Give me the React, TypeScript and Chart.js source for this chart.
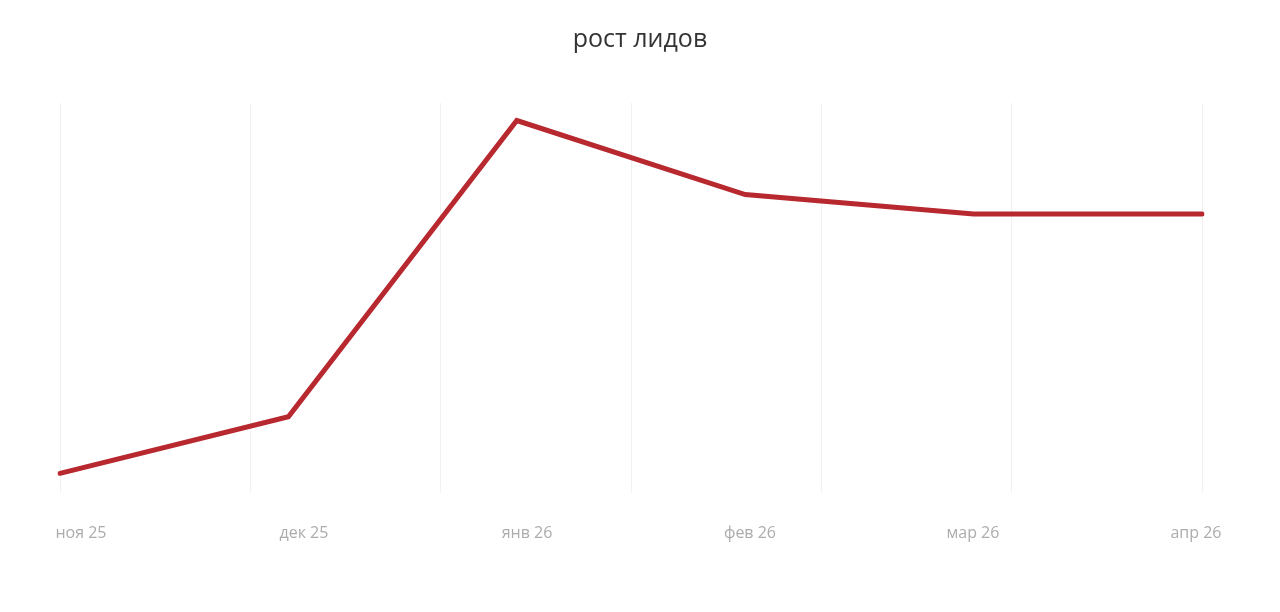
import { useEffect, useRef } from "react";
import { Chart, registerables, ChartConfiguration } from "chart.js";

Chart.register(...registerables);

const months: string[] = ["ноя 25", "дек 25", "янв 26", "фев 26", "мар 26", "апр 26"];
const leads: number[] = [5, 19.5, 95.5, 76.5, 71.5, 71.5];
const gridSteps: number[] = [0, 1, 2, 3, 4, 5, 6];

const FONT = "'Open Sans', 'Noto Sans', sans-serif";

function LeadsChart() {
  const chartRef = useRef<null | HTMLCanvasElement>(null);

  useEffect(() => {
    document.body.style.margin = "0";
    let chartInstance: null | Chart<"line"> = null;
    if (chartRef.current) {
      const ctx = chartRef.current.getContext("2d");
      if (ctx) {
        const config: ChartConfiguration<"line"> = {
          type: "line",
          data: {
            labels: months,
            datasets: [
              {
                label: "рост лидов",
                data: leads,
                borderColor: "#b8282f",
                borderWidth: 5,
                borderCapStyle: "round",
                pointRadius: 0,
                pointHoverRadius: 0,
                tension: 0,
                fill: false,
                xAxisID: "x",
                yAxisID: "y",
              },
            ],
          },
          options: {
            responsive: false,
            animation: false,
            layout: {
              padding: { left: 60, right: 60, top: 0, bottom: 38 },
            },
            plugins: {
              legend: { display: false },
              tooltip: { enabled: false },
              title: {
                display: true,
                text: "рост лидов",
                color: "#333333",
                font: { family: FONT, size: 25, weight: "normal" },
                padding: { top: 25, bottom: 48 },
              },
            },
            scales: {
              x: {
                type: "category",
                display: false,
                offset: false,
              },
              grid: {
                type: "linear",
                position: "bottom",
                min: 0,
                max: gridSteps.length - 1,
                afterBuildTicks: (scale) => {
                  scale.ticks = gridSteps.map((v) => ({ value: v }));
                },
                ticks: { display: false },
                grid: { color: "#f1f1f1", lineWidth: 1, drawTicks: false },
                border: { display: false },
              },
              labelsAxis: {
                type: "linear",
                position: "bottom",
                min: -0.094,
                max: 5.027,
                afterBuildTicks: (scale) => {
                  scale.ticks = months.map((_, i) => ({ value: i }));
                },
                grid: { display: false, drawTicks: false },
                border: { display: false },
                ticks: {
                  autoSkip: false,
                  maxRotation: 0,
                  padding: 31,
                  color: "#acacac",
                  font: { family: FONT, size: 16 },
                  callback: (value) => months[Number(value)] ?? "",
                },
              },
              y: {
                display: false,
                min: 0,
                max: 100,
              },
              spacer: {
                type: "linear",
                position: "right",
                display: true,
                grid: { display: false, drawTicks: false },
                border: { display: false },
                ticks: { display: false },
                afterFit: (scale) => {
                  scale.width = 18;
                },
              },
            },
          },
        };
        chartInstance = new Chart(ctx, config);
      }
    }
    return () => {
      if (chartInstance) {
        chartInstance.destroy();
      }
    };
  }, []);

  return (
    <div style={{ width: 1280, height: 612, background: "#ffffff" }}>
      <canvas ref={chartRef} width={1280} height={612} />
    </div>
  );
}

export default function App() {
  return <LeadsChart />;
}
